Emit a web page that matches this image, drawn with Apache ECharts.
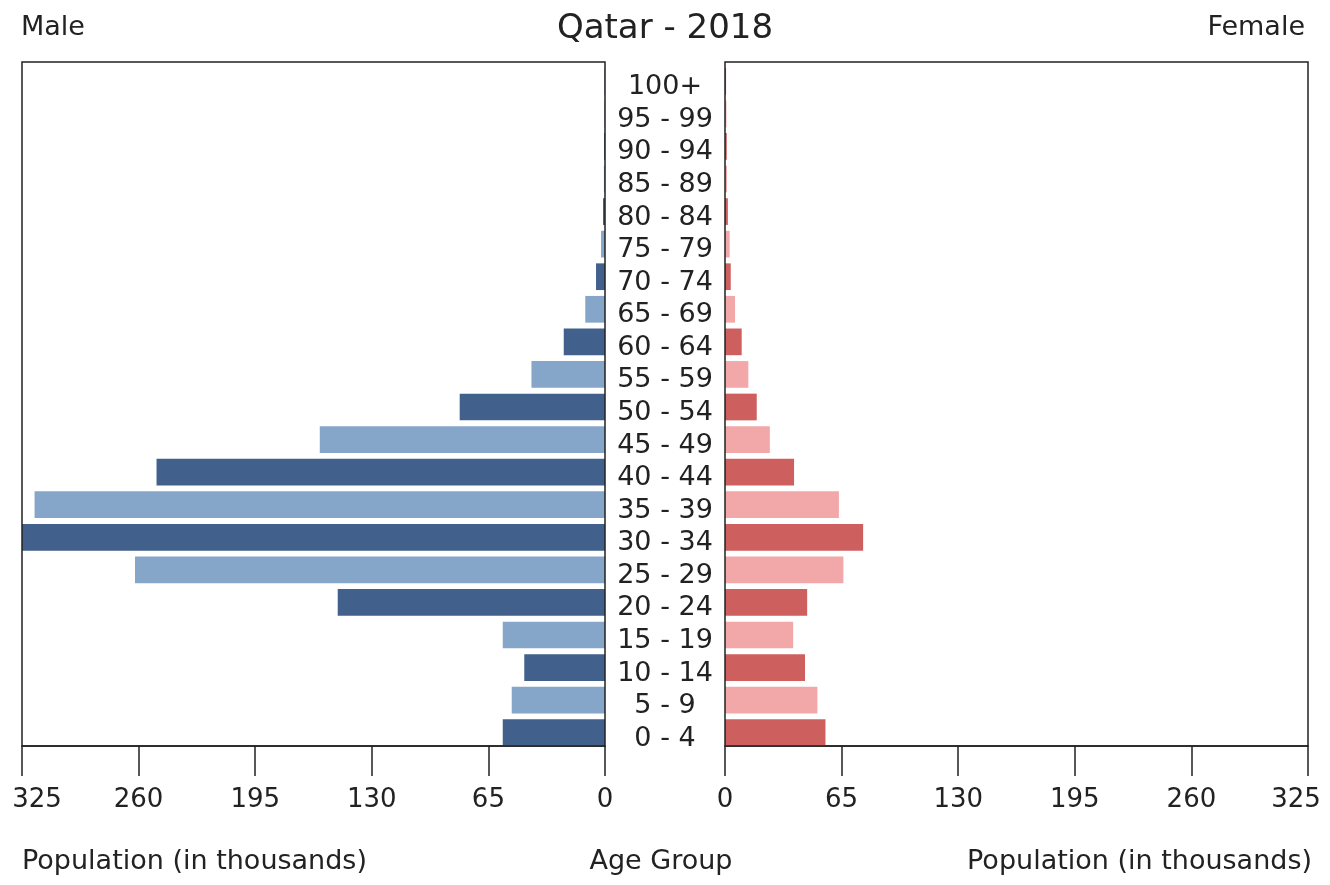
<!DOCTYPE html>
<html>
<head>
<meta charset="utf-8">
<script src="https://cdn.jsdelivr.net/npm/echarts@6/dist/echarts.min.js"></script>
<style>html,body{margin:0;padding:0;background:#fff;}#c{width:1330px;height:885px;}</style>
</head>
<body>
<div id="c"></div>
<script>
const ageGroups = ['0 - 4','5 - 9','10 - 14','15 - 19','20 - 24','25 - 29','30 - 34','35 - 39','40 - 44','45 - 49','50 - 54','55 - 59','60 - 64','65 - 69','70 - 74','75 - 79','80 - 84','85 - 89','90 - 94','95 - 99','100+'];
const male = [57, 52, 45, 57, 149, 262, 325, 318, 250, 159, 81, 41, 23, 11, 5, 2.2, 1.1, 0.6, 0.5, 0.3, 0.2];
const female = [56, 51.5, 44.6, 38, 45.8, 66, 77, 63.5, 38.5, 25, 17.7, 13, 9.3, 5.6, 3.2, 2.6, 1.6, 1.1, 1, 0.8, 0.6];
const xTicks = [0, 65, 130, 195, 260, 325];

const FONT = 'DejaVu Sans';
const maleColors = ['#41608b', '#86a6c9'];
const femaleColors = ['#cd5f5f', '#f2a8a8'];
const chart = echarts.init(document.getElementById('c'));
const XMAX = xTicks[xTicks.length - 1];
const grids = [
  {left: 22, top: 65, width: 583, height: 684, show: false, containLabel: false, outerBoundsMode: 'none'},
  {left: 725, top: 65, width: 583, height: 684, show: false, containLabel: false, outerBoundsMode: 'none'}
];
function xAxisFor(side) {
  return {
    type: 'value', min: xTicks[0], max: XMAX, interval: 65,
    offset: -3,
    splitLine: {show: false},
    axisLine: {show: true, lineStyle: {color: '#222', width: 1.5}},
    axisTick: {show: true, length: 30, lineStyle: {color: '#222', width: 1.5}},
    axisLabel: {
      margin: 41, fontFamily: FONT, fontSize: 26, color: '#222', hideOverlap: false,
      formatter: v => (v === XMAX ? '{e|' + v + '}' : String(v)),
      rich: {e: {fontFamily: FONT, fontSize: 26, color: '#222',
                 padding: side === 'left' ? [0, 0, 0, 30] : [0, 24, 0, 0]}}
    }
  };
}
chart.setOption({
  animation: false,
  textStyle: {fontFamily: FONT},
  title: {text: 'Qatar - 2018', left: 'center', top: 7, textStyle: {fontFamily: FONT, fontSize: 34, fontWeight: 'normal', color: '#222'}},
  grid: grids,
  xAxis: [
    Object.assign({gridIndex: 0, inverse: true}, xAxisFor('left')),
    Object.assign({gridIndex: 1}, xAxisFor('right'))
  ],
  yAxis: [
    {type: 'category', gridIndex: 0, data: ageGroups, position: 'right',
     axisLine: {show: false}, axisTick: {show: false}, axisLabel: {show: false}},
    {type: 'category', gridIndex: 1, data: ageGroups, position: 'left',
     axisLine: {show: false}, axisTick: {show: false},
     axisLabel: {show: true, interval: 0, hideOverlap: false, margin: 60, align: 'center',
       fontFamily: FONT, fontSize: 27, color: '#222',
       formatter: v => '{a|' + v + '}',
       rich: {a: {fontFamily: FONT, fontSize: 27, color: '#222', align: 'center', padding: [12, 0, 0, 0]}}}}
  ],
  series: [
    {type: 'bar', name: 'Male', xAxisIndex: 0, yAxisIndex: 0, data: male, barCategoryGap: '18%',
     itemStyle: {color: p => maleColors[p.dataIndex % 2]}},
    {type: 'bar', name: 'Female', xAxisIndex: 1, yAxisIndex: 1, data: female, barCategoryGap: '18%',
     itemStyle: {color: p => femaleColors[p.dataIndex % 2]}}
  ],
  graphic: [
    {type: 'rect', z: 100, silent: true, shape: {x: 22, y: 62, width: 583, height: 684}, style: {fill: 'none', stroke: '#222', lineWidth: 1.5}},
    {type: 'rect', z: 100, silent: true, shape: {x: 725, y: 62, width: 583, height: 684}, style: {fill: 'none', stroke: '#222', lineWidth: 1.5}},
    {type: 'text', left: 21, top: 14, style: {text: 'Male', font: '27px "DejaVu Sans"', fill: '#222'}},
    {type: 'text', right: 25, top: 14, style: {text: 'Female', font: '27px "DejaVu Sans"', fill: '#222'}},
    {type: 'text', left: 22, top: 848, style: {text: 'Population (in thousands)', font: '27px "DejaVu Sans"', fill: '#222'}},
    {type: 'text', right: 18, top: 848, style: {text: 'Population (in thousands)', font: '27px "DejaVu Sans"', fill: '#222'}},
    {type: 'text', x: 661, y: 848, style: {text: 'Age Group', font: '27px "DejaVu Sans"', fill: '#222', textAlign: 'center'}}
  ]
});
</script>
</body>
</html>
